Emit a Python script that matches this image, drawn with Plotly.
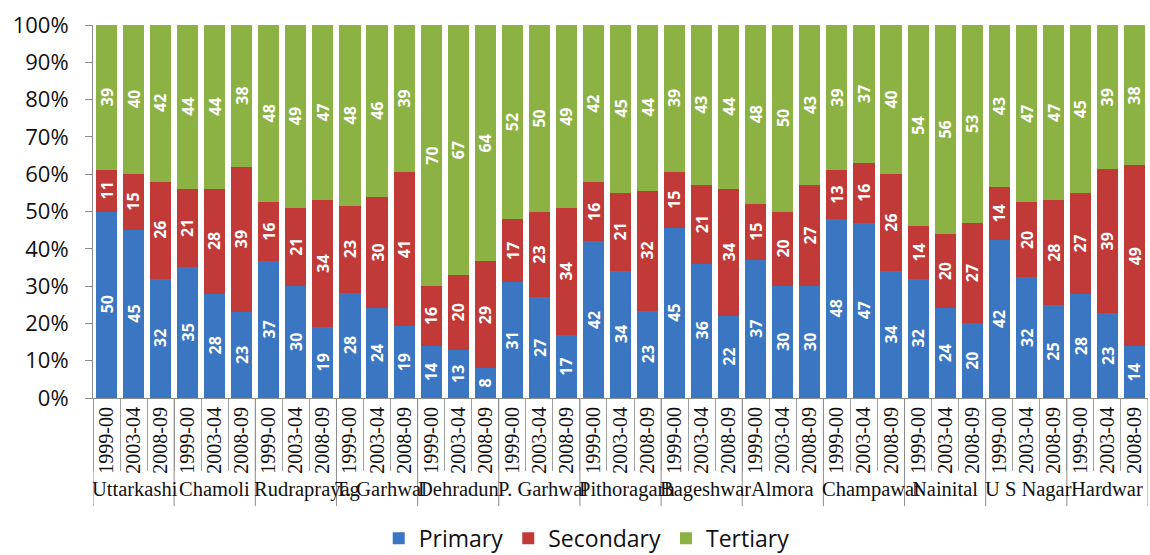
import plotly.graph_objects as go

districts = ["Uttarkashi", "Chamoli", "Rudraprayag", "T. Garhwal", "Dehradun",
             "P. Garhwal", "Pithoragarh", "Bageshwar", "Almora", "Champawat",
             "Nainital", "U S Nagar", "Hardwar"]
years = ["1999-00", "2003-04", "2008-09"]

# sector shares per district, one triple per year (1999-00, 2003-04, 2008-09)
primary = [50, 45, 32, 35, 28, 23, 37, 30, 19, 28, 24, 19, 14, 13, 8,
           31, 27, 17, 42, 34, 23, 45, 36, 22, 37, 30, 30, 48, 47, 34,
           32, 24, 20, 42, 32, 25, 28, 23, 14]
secondary = [11, 15, 26, 21, 28, 39, 16, 21, 34, 23, 30, 41, 16, 20, 29,
             17, 23, 34, 16, 21, 32, 15, 21, 34, 15, 20, 27, 13, 16, 26,
             14, 20, 27, 14, 20, 28, 27, 39, 49]
tertiary = [39, 40, 42, 44, 44, 38, 48, 49, 47, 48, 46, 39, 70, 67, 64,
            52, 50, 49, 42, 45, 44, 39, 43, 44, 48, 50, 43, 39, 37, 40,
            54, 56, 53, 43, 47, 47, 45, 39, 38]

n_years = len(years)
pos = list(range(len(districts) * n_years))
year_labels = [y for _ in districts for y in years]

series = [("Primary", primary, "#3a76c2"),
          ("Secondary", secondary, "#c23a37"),
          ("Tertiary", tertiary, "#8db244")]

fig = go.Figure()
for name, vals, color in series:
    fig.add_trace(go.Bar(
        name=name,
        x=pos,
        y=vals,
        marker=dict(color=color, line=dict(width=0)),
        hoverinfo="skip",
    ))

annotations = []
# white value labels, centred in each stacked segment (stack shown as 100%)
for i in pos:
    total = primary[i] + secondary[i] + tertiary[i]
    base = 0.0
    for vals in (primary, secondary, tertiary):
        share = vals[i] / total * 100
        annotations.append(dict(
            x=i, y=base + share / 2, xref="x", yref="y",
            text=f"<b>{vals[i]}</b>", showarrow=False, textangle=-90,
            font=dict(family="Open Sans", size=16, color="white"),
        ))
        base += share

# district names under each group of three years; long names start at the
# group's left edge and run on to the right, short ones are centred
for k, name in enumerate(districts):
    long_name = len(name) >= 9
    annotations.append(dict(
        x=(k * n_years - 0.5) if long_name else (k * n_years + (n_years - 1) / 2),
        xanchor="left" if long_name else "center",
        y=-0.244, xref="x", yref="paper", yanchor="middle",
        text=name, showarrow=False, xshift=-3 if long_name else 0,
        font=dict(family="Liberation Serif", size=20.5, color="#111"),
    ))

# group dividers running down through the label area
shapes = []
for k in range(len(districts) + 1):
    shapes.append(dict(
        type="line", xref="x", yref="paper",
        x0=k * n_years - 0.5, x1=k * n_years - 0.5, y0=0, y1=-0.29,
        line=dict(color="#8c8c8c", width=1),
    ))

fig.update_layout(
    barmode="stack",
    barnorm="percent",
    bargap=0.22,
    width=1150,
    height=555,
    margin=dict(l=93, r=2, t=25, b=157),
    paper_bgcolor="white",
    plot_bgcolor="white",
    annotations=annotations,
    shapes=shapes,
    showlegend=True,
    legend=dict(orientation="h", x=0.468, xanchor="center", yref="container",
                y=0.03, yanchor="middle",
                font=dict(family="Open Sans", size=23, color="#111"),
                traceorder="normal", itemwidth=30),
)

fig.update_yaxes(
    range=[0, 100],
    dtick=10,
    ticksuffix="%",
    showgrid=False,
    zeroline=False,
    showline=True,
    linecolor="#8c8c8c",
    ticks="outside",
    ticklen=7,
    tickcolor="#8c8c8c",
    ticklabelstandoff=12,
    tickfont=dict(family="Open Sans", size=22, color="#111"),
)

fig.update_xaxes(
    range=[-0.5, len(pos) - 0.5],
    automargin=False,
    tickmode="array",
    tickvals=pos,
    ticktext=year_labels,
    tickangle=-90,
    ticks="",
    tickfont=dict(family="Liberation Serif", size=20, color="#111"),
    minor=dict(tickmode="array", tickvals=[p - 0.5 for p in pos],
               ticks="outside", ticklen=72, tickcolor="#a0a0a0", showgrid=False),
    showline=True,
    linecolor="#8c8c8c",
    showgrid=False,
    zeroline=False,
)

fig.write_html("out.html")
